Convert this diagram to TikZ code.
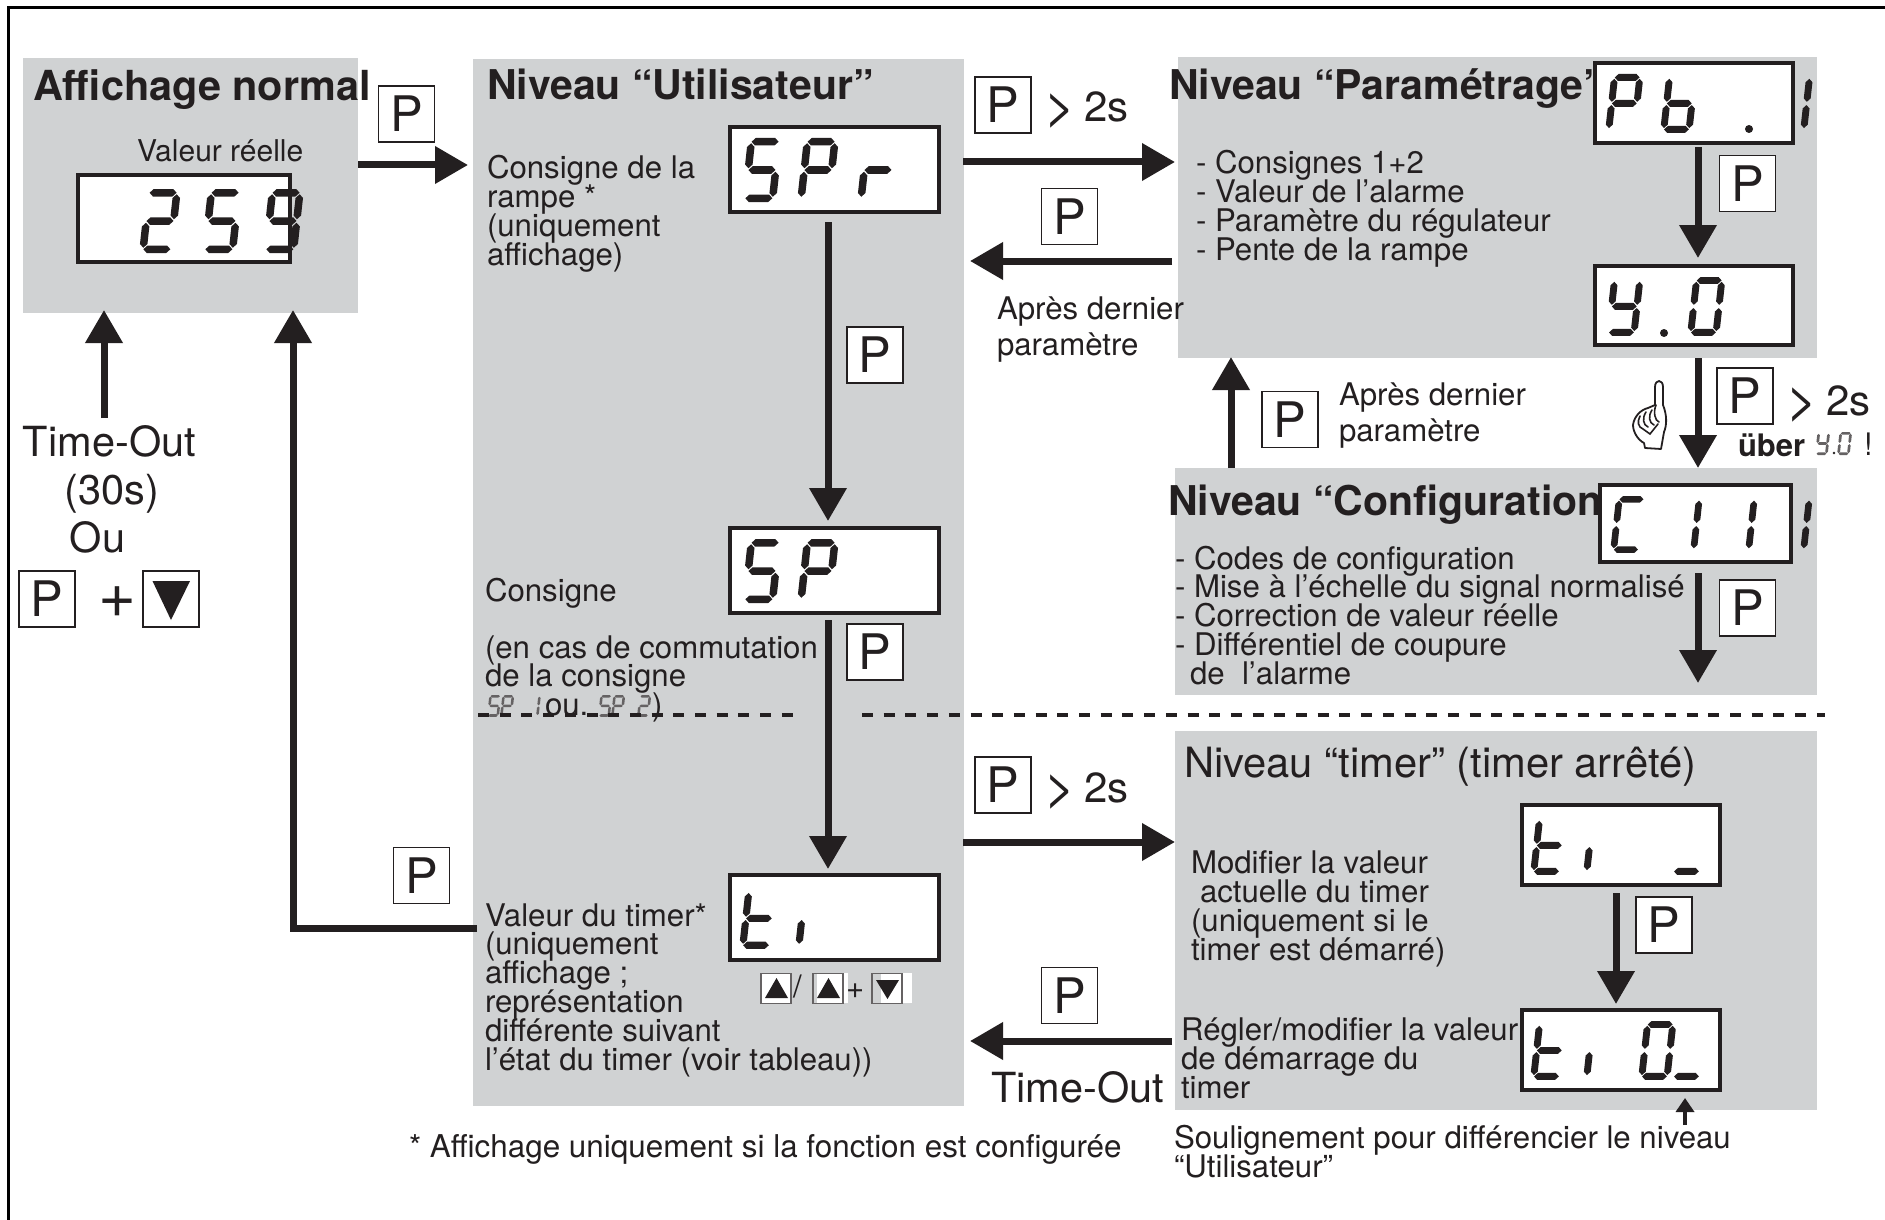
\documentclass[tikz,border=0pt]{standalone}
\usepackage{fontspec}
\setmainfont{TeX Gyre Heros}
\usetikzlibrary{arrows.meta,calc}
\AtBeginDocument{\lineskiplimit=-100pt\relax}
\definecolor{ink}{HTML}{231F20}
\definecolor{panelc}{HTML}{D0D2D3}
\tikzset{
  panel/.style={fill=panelc,draw=none,rectangle,inner sep=0,outer sep=0,anchor=north west},
  lcd/.style={draw=ink,fill=white,line width=4,rectangle,inner sep=0,outer sep=2pt,anchor=north west},
  pbox/.style={draw=ink,fill=white,line width=1.6,rectangle,inner sep=0,outer sep=0,minimum width=56,minimum height=56,font=\fontsize{49}{49}\selectfont,text=ink},
  arr/.style={draw=ink,line width=7,-{Triangle[length=33pt,width=36pt]}},
  tinyarr/.style={draw=ink,line width=3.5,-{Triangle[length=14pt,width=18pt]}},
  txt/.style={anchor=north west,inner sep=0,outer sep=0,align=left,text=ink},
  seg/.style={fill=ink,draw=none},
  minibtn/.style={draw=ink!70,line width=1.2,rectangle,inner sep=0,outer sep=0,minimum width=30,minimum height=30,anchor=north west},
  frameline/.style={draw=black,line width=3.5}
}
% seven segment display
\newcommand\sega{\fill[seg] (4,3.75)--(7.75,0)--(27.25,0)--(31,3.75)--(27.25,7.5)--(7.75,7.5)--cycle;}
\newcommand\segg{\fill[seg] (4,32)--(7.75,28.25)--(27.25,28.25)--(31,32)--(27.25,35.75)--(7.75,35.75)--cycle;}
\newcommand\segd{\fill[seg] (4,60.25)--(7.75,56.5)--(27.25,56.5)--(31,60.25)--(27.25,64)--(7.75,64)--cycle;}
\newcommand\segf{\fill[seg] (3.75,5.25)--(7.5,9)--(7.5,26.5)--(3.75,30.25)--(0,26.5)--(0,9)--cycle;}
\newcommand\sege{\fill[seg] (3.75,33.75)--(7.5,37.5)--(7.5,55)--(3.75,58.75)--(0,55)--(0,37.5)--cycle;}
\newcommand\segb{\fill[seg] (31.25,5.25)--(35,9)--(35,26.5)--(31.25,30.25)--(27.5,26.5)--(27.5,9)--cycle;}
\newcommand\segc{\fill[seg] (31.25,33.75)--(35,37.5)--(35,55)--(31.25,58.75)--(27.5,55)--(27.5,37.5)--cycle;}
\newcommand\dgt[4][1]{\begin{scope}[shift={({#2+7*#1},#3)},xslant=0.11,scale=#1]
  \foreach \s in {#4}{\csname seg\s\endcsname}\end{scope}}
% text: x, baseline of first line
\newcommand\tx[6][31.2]{\node[txt,font=\fontsize{#1}{#2}\selectfont] (#3) at (#4,{#5-40}) {\rule{0pt}{40pt}#6};}
\newcommand\lcdbox[5]{\node[lcd,minimum width={#4-#2-4},minimum height={#5-#3-4}] (#1) at (#2,#3) {};}
\newcommand\gtwo{\raisebox{-3pt}{\fontsize{54}{40}\selectfont >}\hspace*{8pt}2s}
\begin{document}
\begin{tikzpicture}[x=1pt,y=-1pt]
\useasboundingbox (0,0) rectangle (1885,1220);
\fill[white] (0,0) rectangle (1885,1220);
\coordinate (fTL) at (8.5,7.5);
\coordinate (fTR) at (1885,7.5);
\coordinate (fBL) at (8.5,1220);
\draw[frameline] (fTR) -- (fTL) -- (fBL);
% panels
\node[panel,minimum width=335,minimum height=255] (pA) at (23,58) {};
\node[panel,minimum width=491,minimum height=1047] (pU) at (473,59) {};
\node[panel,minimum width=639,minimum height=301] (pP) at (1178,57) {};
\node[panel,minimum width=642,minimum height=227] (pC) at (1175,468) {};
\node[panel,minimum width=642,minimum height=379] (pT) at (1175,731) {};
% titles
\tx[41.4]{41}{tA}{33}{101}{\textbf{Affichage normal}}
\tx[41]{41}{tU}{487}{100}{\textbf{Niveau “Utilisateur”}}
\tx[41]{41}{tP}{1169}{100}{\textbf{Niveau “Paramétrage”}}
\tx[41]{41}{tC}{1168}{515}{\textbf{Niveau “Configuration}}
\tx[41.7]{41}{tT}{1184}{777}{Niveau “timer” (timer arrêté)}
% body text
\tx[30]{29}{vr}{137}{161}{Valeur réelle}
\tx{29}{t1}{487}{178}{Consigne de la\\rampe *\\(uniquement\\affichage)}
\tx{28.9}{t2}{485}{601}{Consigne}
\tx{28.9}{t3}{485}{658}{(en cas de commutation\\de la consigne}
\tx{28.9}{t3b}{545}{715}{ou.}
\tx{28.9}{t3c}{652}{715}{)}
\tx{28.9}{t4}{485}{926}{Valeur du timer*\\(uniquement\\affichage ;\\représentation\\différente suivant\\l’état du timer (voir tableau))}
\tx{29}{t5}{1196}{173}{- Consignes 1+2\\- Valeur de l’alarme\\- Paramètre du régulateur\\- Pente de la rampe}
\tx{36}{t6}{997}{319}{Après dernier\\paramètre}
\tx{36}{t7}{1339}{405}{Après dernier\\paramètre}
\tx{28.8}{t8}{1175}{569}{- Codes de configuration\\- Mise à l’échelle du signal normalisé\\- Correction de valeur réelle\\- Différentiel de coupure\\\hspace*{15pt}de\ \ l’alarme}
\tx{29}{t9}{1191}{873}{Modifier la valeur\\\hspace*{9pt}actuelle du timer\\(uniquement si le\\timer est démarré)}
\tx{29}{t10}{1181}{1040}{Régler/modifier la valeur\\de démarrage du\\timer}
\tx{29}{t11}{1174}{1148}{Soulignement pour différencier le niveau\\“Utilisateur”}
\tx[31.4]{29}{t12}{409}{1157}{* Affichage uniquement si la fonction est configurée}
\tx[41.5]{48}{t13}{23}{456}{Time-Out\\\hspace*{42pt}(30s)\\\hspace*{47pt}Ou}
\tx[41.5]{41}{t14}{991}{1102}{Time-Out}
\tx[42]{40}{g1}{1044.5}{122}{\gtwo}
\tx[42]{40}{g2}{1044.5}{802}{\gtwo}
\tx[42]{40}{g3}{1786.5}{415}{\gtwo}
\tx[31]{29}{ub}{1738}{456}{\textbf{über}}
\tx[31]{31}{ubx}{1864}{455}{!}
% displays
\lcdbox{d259}{76}{173}{292}{264}
\lcdbox{dSPr}{728}{125}{941}{214}
\lcdbox{dSP}{728}{526}{941}{615}
\lcdbox{dti}{728}{873}{941}{962}
\lcdbox{dPb}{1593}{61}{1795}{145}
\lcdbox{dY}{1593}{264}{1795}{347}
\lcdbox{dC}{1598}{483}{1793}{564}
\lcdbox{dtA}{1520}{803}{1722}{887}
\lcdbox{dtB}{1520}{1008}{1722}{1092}
% digits
\dgt{139}{189}{a,b,g,e,d}\dgt{201}{189}{a,f,g,c,d}\dgt{262}{189}{a,b,c,d,f,g}
\dgt{741}{138}{a,f,g,c,d}\dgt{797}{138}{a,b,f,g,e}\dgt{857}{138}{g,e}
\dgt{741}{539}{a,f,g,c,d}\dgt{797}{539}{a,b,f,g,e}
\dgt[.95]{739}{888}{f,e,g,d}\dgt[.95]{795}{888}{e}
\dgt[.92]{1605}{74}{a,b,f,g,e}\dgt[.92]{1660}{74}{f,e,g,c,d}\dgt[.92]{1800}{74}{f,e}
\fill[ink] (1749,129) circle (4);
\dgt[.92]{1605}{277}{f,b,g,c,d}\dgt[.92]{1687}{277}{a,b,c,d,e,f}
\fill[ink] (1664,333) circle (4);
\dgt[.89]{1610}{496}{a,f,e,d}\dgt[.89]{1690}{496}{f,e}\dgt[.89]{1745}{496}{f,e}\dgt[.89]{1800}{496}{f,e}
\dgt[.92]{1530}{816}{f,e,g,d}\dgt[.92]{1583}{816}{e}\dgt[.92]{1670}{816}{d}
\dgt[.92]{1530}{1021}{f,e,g,d}\dgt[.92]{1583}{1021}{e}\dgt[.92]{1638}{1021}{a,b,c,d,e,f}\dgt[.92]{1670}{1021}{d}
% tiny digits
\begin{scope}[seg/.style={fill=ink!70,draw=none}]
\dgt[.34]{487}{695}{a,f,g,c,d}\dgt[.34]{500}{695}{a,b,f,g,e}\dgt[.34]{536}{695}{f,e}
\dgt[.34]{598}{695}{a,f,g,c,d}\dgt[.34]{611}{695}{a,b,f,g,e}\dgt[.34]{637}{695}{a,b,g,e,d}
\dgt[.36]{1815}{432}{f,b,g,c,d}\fill[ink] (1834,453) circle (1.4);\dgt[.36]{1837}{432}{a,b,c,d,e,f}
\end{scope}
% dashed separator
\coordinate (dsA) at (478,715);\coordinate (dsB) at (794,715);\coordinate (dsC) at (862,715);\coordinate (dsD) at (1825,715);
\draw[ink,line width=4,dash pattern=on 11pt off 10.7pt] (dsA) -- (dsB);
\draw[ink,line width=4,dash pattern=on 11pt off 10.7pt] (dsC) -- (dsD);
% P keys
\node[pbox] (k1) at (406.5,114) {P};
\node[pbox] (k2) at (1003,105) {P};
\node[pbox] (k3) at (1069.5,216.5) {P};
\node[pbox] (k4) at (875,355) {P};
\node[pbox] (k5) at (875,652) {P};
\node[pbox] (k6) at (1747.5,183.5) {P};
\node[pbox] (k7) at (1745,396) {P};
\node[pbox] (k8) at (1290,419.5) {P};
\node[pbox] (k9) at (1747.5,608) {P};
\node[pbox] (k10) at (1003,785) {P};
\node[pbox] (k11) at (1664,925) {P};
\node[pbox] (k12) at (1069.5,995.5) {P};
\node[pbox] (k13) at (421.5,875.5) {P};
\node[pbox] (k14) at (47,599) {P};
\node[pbox] (k15) at (171,599) {};
\fill[ink] (152.5,581) -- (190,581) -- (171,620) -- cycle;
\tx[65]{41}{plus}{98}{617}{+}
% mini buttons
\fill[white] (817,973) rectangle (848,1003);
\fill[white] (881,973) rectangle (912,1003);
\node[minibtn,fill=white] (m1) at (761,973.5) {};
\node[minibtn] (m2) at (813,973.5) {};
\node[minibtn] (m3) at (872,973.5) {};
\fill[ink] (765,998) -- (788,998) -- (776.5,978) -- cycle;
\fill[ink] (817,998) -- (840,998) -- (828.5,978) -- cycle;
\fill[ink] (876,980) -- (899,980) -- (887.5,999) -- cycle;
\tx[31]{31}{sl}{793}{997}{/}
\tx[31]{31}{pl}{846}{998}{+}
% connectors
\coordinate (lA) at (0,165);
\draw[arr] (pA.east |- lA) -- ([xshift=-5pt]pU.west |- lA);
\coordinate (upA) at (104,418);
\draw[arr] (upA) -- ([xshift=-86.5pt,yshift=3pt]pA.south);
\coordinate (lB) at (477,928);
\draw[arr] (lB) -| ([xshift=102.5pt,yshift=3pt]pA.south);
\coordinate (lC) at (0,162);
\draw[arr] ([xshift=-1pt]pU.east |- lC) -- ([xshift=-3pt]pP.west |- lC);
\coordinate (lD) at (0,261);
\draw[arr] ([xshift=-6pt]pP.west |- lD) -- ([xshift=6pt]pU.east |- lD);
\coordinate (lE) at (0,842);
\draw[arr] ([xshift=-1pt]pU.east |- lE) -- (pT.west |- lE);
\coordinate (lF) at (0,1041);
\draw[arr] ([xshift=-3pt]pT.west |- lF) -- ([xshift=6pt]pU.east |- lF);
\draw[arr] ([xshift=-6.5pt,yshift=-8pt]dSPr.south) -- ([xshift=-6.5pt,yshift=5pt]dSP.north);
\draw[arr] ([xshift=-6.5pt,yshift=-5pt]dSP.south) -- ([xshift=-6.5pt,yshift=4pt]dti.north);
\draw[arr] ([xshift=4pt,yshift=-2pt]dPb.south) -- ([xshift=4pt,yshift=6pt]dY.north);
\draw[arr] ([xshift=4pt,yshift=-11pt]dY.south) -- ([xshift=2.5pt,yshift=15pt]dC.north);
\coordinate (cEnd) at (1698,683);
\draw[arr] ([xshift=2.5pt,yshift=-9pt]dC.south) -- (cEnd);
\coordinate (lG) at (1231,0);
\draw[arr] (pC.north -| lG) -- ([yshift=1pt]pP.south -| lG);
\draw[arr] ([xshift=-5pt,yshift=-6pt]dtA.south) -- ([xshift=-5pt,yshift=4pt]dtB.north);
\coordinate (soul) at (1685,1125);
\draw[tinyarr] (soul) -- ([xshift=64pt,yshift=-6pt]dtB.south);
% hand
\draw[ink,line width=1.8,fill=white,line join=round]
  (1655,405) -- (1655,387) .. controls (1655,379) and (1663,379) .. (1663,387) -- (1663,405)
  .. controls (1667,415) and (1667,425) .. (1664,432) -- (1661,449) -- (1645,448) -- (1644,443)
  .. controls (1638,440) and (1633,432) .. (1633,425) .. controls (1634,417) and (1640,410) .. (1648,408) -- cycle;
\draw[ink,line width=1.6,line cap=round]
  (1640,416) .. controls (1637,422) and (1638,427) .. (1643,429)
  (1646,412) .. controls (1642,418) and (1643,425) .. (1648,427)
  (1652,410) .. controls (1648,416) and (1649,423) .. (1654,425)
  (1656,405) .. controls (1653,412) and (1655,421) .. (1659,422)
  (1643,429) -- (1650,434) -- (1658,424);
\end{tikzpicture}
\end{document}
